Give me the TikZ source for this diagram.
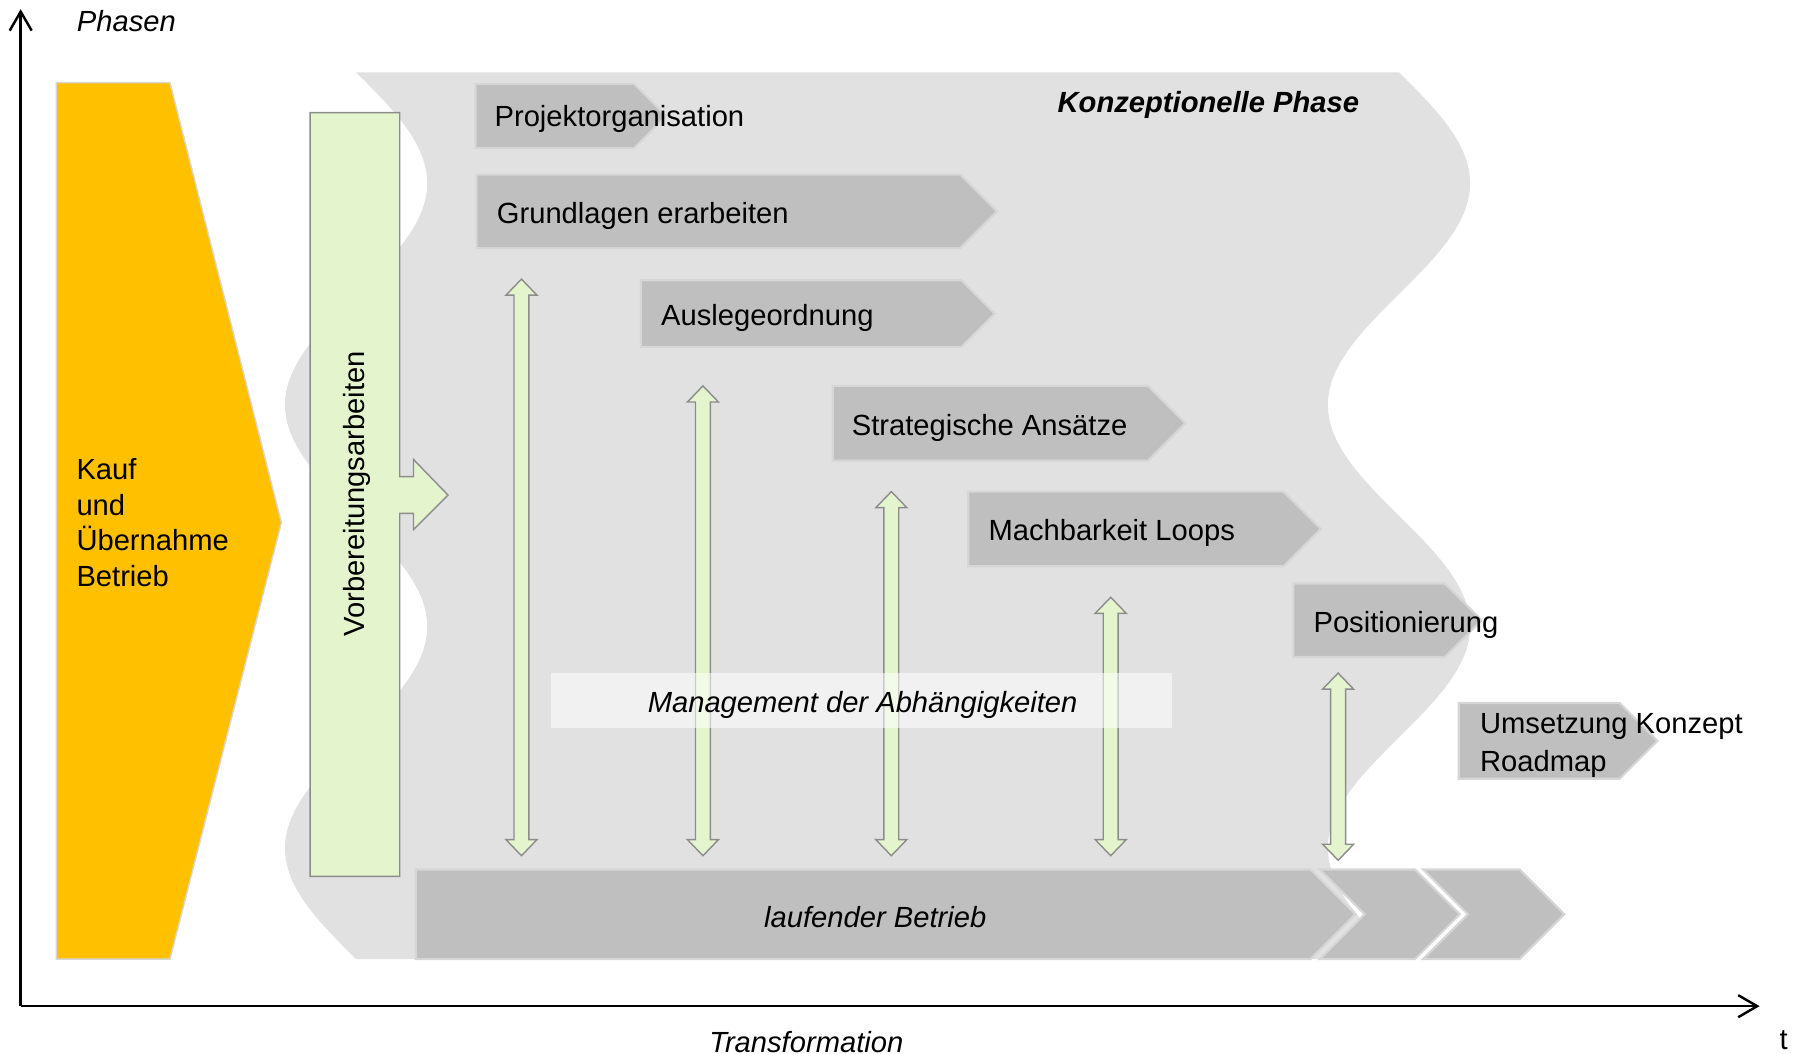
\documentclass[tikz,border=0pt]{standalone}
\usepackage{fontspec}
\setmainfont{Liberation Sans}
\usepackage{tikz}
\usetikzlibrary{arrows.meta}
\definecolor{kaufgold}{HTML}{FFC000}
\definecolor{phasegray}{HTML}{E1E1E1}
\definecolor{boxgray}{HTML}{BFBFBF}
\definecolor{boxline}{HTML}{D6D6D6}
\definecolor{prepgreen}{HTML}{E4F5CE}
\definecolor{prepline}{HTML}{8C8C8C}
\tikzstyle{phasearea} = [fill=phasegray]
\tikzstyle{kaufshape} = [fill=kaufgold, draw=boxline, line width=0.4pt]
\tikzstyle{prepshape} = [fill=prepgreen, draw=prepline, line width=0.4pt]
\tikzstyle{stepshape} = [fill=boxgray, draw=boxline, line width=0.6pt]
\tikzstyle{steptext} = [anchor=west, inner sep=0pt, align=left]
\tikzstyle{axisline} = [line width=0.7pt, -{Straight Barb[length=1.9mm, width=2.2mm]}]
\tikzstyle{dependbox} = [fill=white, fill opacity=0.55]
% step arrow: left, top, tip, bottom
\newcommand{\stepbox}[4]{\path[stepshape] (#1,#2) -- ({#3-(#4-#2)/2},#2) -- (#3,{(#2+#4)/2}) -- ({#3-(#4-#2)/2},#4) -- (#1,#4) -- cycle;}
% chevron with notch: left, top, tip, bottom
\newcommand{\chevbox}[4]{\path[stepshape] (#1,#2) -- ({#3-(#4-#2)/2},#2) -- (#3,{(#2+#4)/2}) -- ({#3-(#4-#2)/2},#4) -- (#1,#4) -- ({#1+(#4-#2)/2},{(#2+#4)/2}) -- cycle;}
% double block arrow: x, top, bottom
\newcommand{\dualarrow}[3]{\path[prepshape] (#1,#2) -- ({#1+13.5},{#2+14}) -- ({#1+6.5},{#2+14}) -- ({#1+6.5},{#3-14}) -- ({#1+13.5},{#3-14}) -- (#1,#3) -- ({#1-13.5},{#3-14}) -- ({#1-6.5},{#3-14}) -- ({#1-6.5},{#2+14}) -- ({#1-13.5},{#2+14}) -- cycle;}

\begin{document}
\begin{tikzpicture}[x=0.011486cm, y=-0.011486cm, font=\fontsize{8.3}{10.1}\selectfont]
\useasboundingbox (0,0) rectangle (1568,917);

% Konzeptionelle Phase (wavy background)
\path[phasearea] plot[domain=63:835, samples=90] ({310+62*sin(0.932642*(\x-63))},\x)
  -- plot[domain=835:63, samples=90] ({1218+62*sin(0.932642*(\x-63))},\x) -- cycle;
\node[font=\fontsize{8.3}{10.1}\selectfont\bfseries\itshape] (konzept) at (1052,91) {Konzeptionelle Phase};

% Kauf und Uebernahme
\path[kaufshape] (49,72) -- (148,72) -- (245,455) -- (148,835) -- (49,835) -- cycle;
\node[steptext] (kauf) at (66,455) {Kauf\\und\\Übernahme\\Betrieb};

% Vorbereitungsarbeiten
\path[prepshape] (270,98) -- (348,98) -- (348,415) -- (360,415) -- (360,400) -- (390,431)
  -- (360,461) -- (360,447) -- (348,447) -- (348,763) -- (270,763) -- cycle;
\node[rotate=90, inner sep=0pt] (vorb) at (311,430) {Vorbereitungsarbeiten};

% Arbeitsschritte
\stepbox{414}{73}{580}{129}
\node[steptext] (s1) at (430,104) {Projektorganisation};
\stepbox{415}{152}{868}{216}
\node[steptext] (s2) at (432,188) {Grundlagen erarbeiten};
\stepbox{558}{244}{866}{302}
\node[steptext] (s3) at (575,277) {Auslegeordnung};
\stepbox{725}{336}{1032}{401}
\node[steptext] (s4) at (741,373) {Strategische Ansätze};
\stepbox{843}{428}{1150}{493}
\node[steptext] (s5) at (860,464) {Machbarkeit Loops};
\stepbox{1126}{508}{1290}{572}
\node[steptext] (s6) at (1143,544) {Positionierung};
\stepbox{1270}{612}{1443}{678}
\node[steptext, font=\fontsize{8.3}{10.7}\selectfont] (s7) at (1288,649) {Umsetzung Konzept\\Roadmap};

% laufender Betrieb
\stepbox{362}{757}{1180}{835}
\chevbox{1149}{757}{1271}{835}
\chevbox{1239}{757}{1362}{835}
\node[font=\fontsize{8.3}{10.1}\selectfont\itshape] (betrieb) at (762,798) {laufender Betrieb};

% Abhaengigkeiten
\dualarrow{454}{243}{745}
\dualarrow{612}{336}{745}
\dualarrow{776}{428}{745}
\dualarrow{967}{520}{745}
\dualarrow{1165}{586}{749}
\path[dependbox] (480,586) rectangle (1020,634);
\node[font=\fontsize{8.3}{10.1}\selectfont\itshape] (mgmt) at (751,614) {Management der Abhängigkeiten};

% Achsen
\coordinate (origin) at (18,876);
\coordinate (ytop) at (18,8);
\coordinate (xend) at (1532,876);
\draw[axisline] (origin) -- (ytop);
\draw[axisline] (origin) -- (xend);
\node[font=\fontsize{8.3}{10.1}\selectfont\itshape] (phasen) at (110,18) {Phasen};
\node[font=\fontsize{8.3}{10.1}\selectfont\itshape] (transf) at (702,907) {Transformation};
\node (tlabel) at (1553,906) {t};
\end{tikzpicture}
\end{document}
